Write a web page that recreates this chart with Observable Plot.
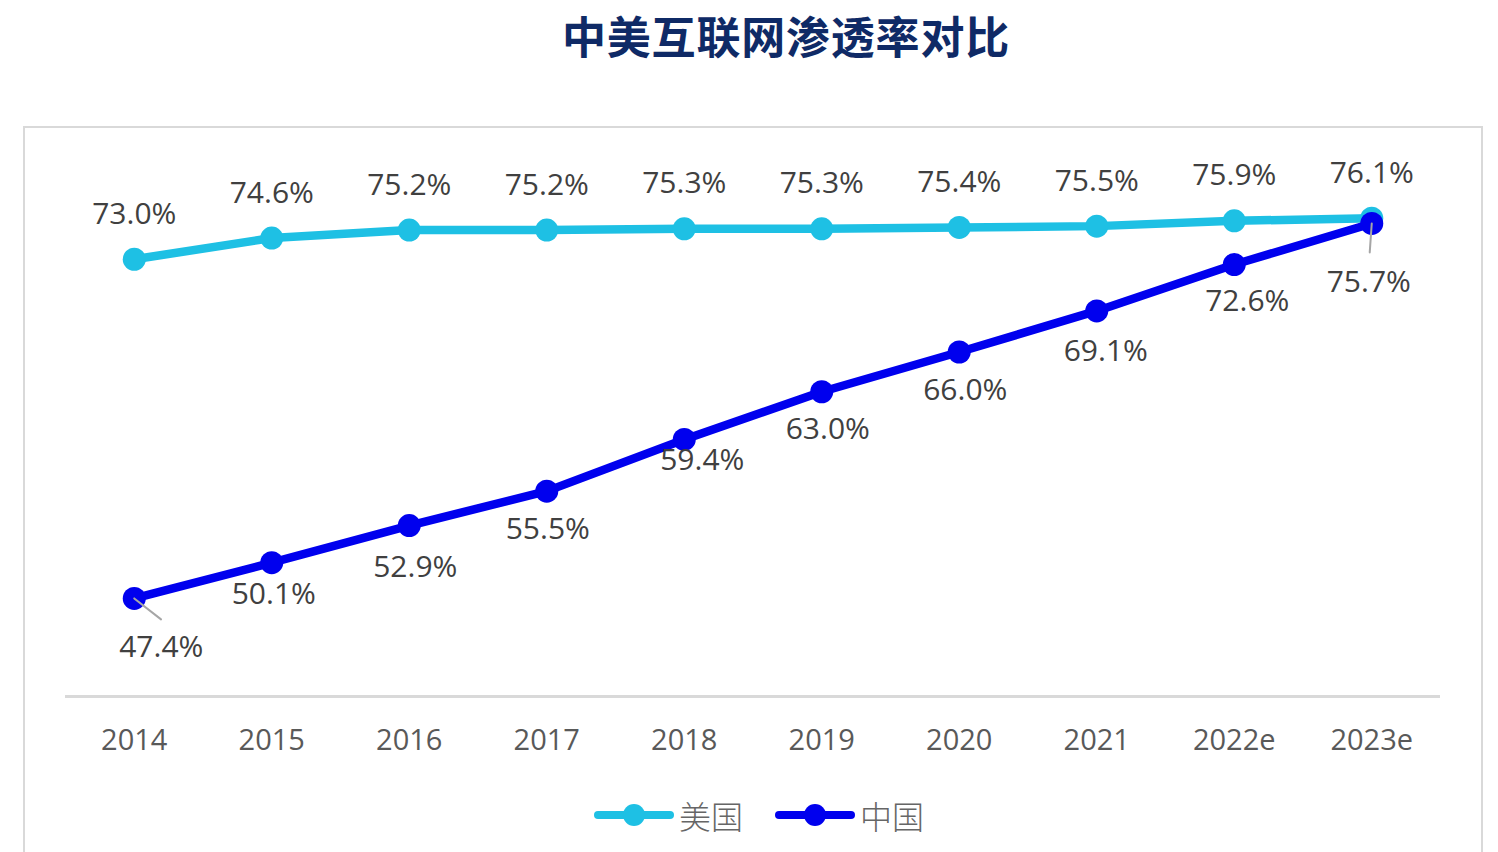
<!DOCTYPE html>
<html>
<head>
<meta charset="utf-8">
<script src="https://cdn.jsdelivr.net/npm/d3@7"></script>
<script src="https://cdn.jsdelivr.net/npm/@observablehq/plot@0.6"></script>
<style>
  html, body { margin: 0; padding: 0; background: #fff; }
  body { position: relative; width: 1498px; height: 852px; overflow: hidden; font-family: "Open Sans", sans-serif; }
  #title {
    position: absolute; left: 786px; top: 6px; transform: translateX(-50%);
    font-family: "Noto Sans CJK SC", sans-serif; font-weight: 700; font-size: 44px;
    line-height: 58px; color: #0f2a66; white-space: nowrap; letter-spacing: 0.8px;
  }
  #frame {
    position: absolute; left: 23px; top: 126px; width: 1456px; height: 780px;
    border: 2.5px solid #d9d9d9; box-sizing: content-box;
  }
  #chart { position: absolute; left: 0; top: 126px; }
  #legend {
    position: absolute; left: 594px; top: 795px; height: 40px;
    display: flex; align-items: center; gap: 32px;
  }
  .item { display: flex; align-items: center; gap: 5px; }
  .item span {
    font-family: "Noto Sans CJK SC", sans-serif; font-weight: 300; font-size: 32px;
    color: #666; line-height: 40px;
  }
</style>
</head>
<body>
<div id="title">中美互联网渗透率对比</div>
<div id="frame"></div>
<div id="chart"></div>
<div id="legend"></div>
<script>
// Internet penetration, United States vs China (percent)
const years = ["2014", "2015", "2016", "2017", "2018", "2019", "2020", "2021", "2022e", "2023e"];
const usValues = [73.0, 74.6, 75.2, 75.2, 75.3, 75.3, 75.4, 75.5, 75.9, 76.1];
const cnValues = [47.4, 50.1, 52.9, 55.5, 59.4, 63.0, 66.0, 69.1, 72.6, 75.7];
const seriesNames = ["美国", "中国"];
const seriesColors = ["#1ec0e4", "#0000ee"];

const us = years.map((year, i) => ({year, value: usValues[i]}));
const cn = years.map((year, i) => ({year, value: cnValues[i]}));

// Label placement for the China series (pixel nudges from each point)
const cnLabelNudge = {
  "2014": [27, 49], "2015": [2, 32], "2016": [6, 42], "2017": [1, 38],
  "2018": [18, 21], "2019": [6, 38], "2020": [6, 38], "2021": [9, 40],
  "2022e": [13, 37], "2023e": [-3, 59]
};
// Leader lines from a point to its displaced label: [length, rotation]
const cnLeaders = {"2014": [34, 128], "2023e": [29, 184]};

const fmt = d => d.value.toFixed(1) + "%";
const labelStyle = {fontSize: 30, fill: "#404040", fontFamily: "'Open Sans', sans-serif"};

const chart = Plot.plot({
  width: 1498,
  height: 660,
  marginLeft: 65,
  marginRight: 58,
  marginTop: 40,
  marginBottom: 90,
  x: {type: "point", domain: years, padding: 0.5, round: false},
  y: {domain: [40, 80], axis: null},
  style: {fontFamily: "'Open Sans', sans-serif", color: "#595959", background: "transparent", overflow: "visible"},
  marks: [
    Plot.ruleY([40], {stroke: "#d9d9d9", strokeWidth: 3}),
    Plot.axisX({tickSize: 0, tickPadding: 33, fontSize: 29, label: null}),
    Plot.line(us, {x: "year", y: "value", stroke: seriesColors[0], strokeWidth: 8.5}),
    Plot.dot(us, {x: "year", y: "value", r: 11.5, fill: seriesColors[0]}),
    Plot.line(cn, {x: "year", y: "value", stroke: seriesColors[1], strokeWidth: 8.5}),
    Plot.dot(cn, {x: "year", y: "value", r: 11.5, fill: seriesColors[1]}),
    ...Object.entries(cnLeaders).map(([year, [length, rotate]]) =>
      Plot.vector(cn.filter(d => d.year === year), {
        x: "year", y: "value", length, rotate, anchor: "start",
        shape: "spike", r: 0.01, stroke: "#a6a6a6", strokeWidth: 2, fill: "#a6a6a6"
      })
    ),
    Plot.text(us, {x: "year", y: "value", text: fmt, dy: -45, ...labelStyle}),
    ...cn.map(d => Plot.text([d], {
      x: "year", y: "value", text: fmt,
      dx: cnLabelNudge[d.year][0], dy: cnLabelNudge[d.year][1], ...labelStyle
    }))
  ]
});
document.getElementById("chart").append(chart);

// Legend: line-with-dot swatch followed by the series name
const legend = document.getElementById("legend");
seriesNames.forEach((name, i) => {
  const item = document.createElement("div");
  item.className = "item";
  item.innerHTML =
    `<svg width="80" height="26" viewBox="0 0 80 26">
       <line x1="4" y1="13" x2="76" y2="13" stroke="${seriesColors[i]}" stroke-width="8" stroke-linecap="round"/>
       <circle cx="40" cy="13" r="11" fill="${seriesColors[i]}"/>
     </svg><span>${name}</span>`;
  legend.append(item);
});
</script>
</body>
</html>
